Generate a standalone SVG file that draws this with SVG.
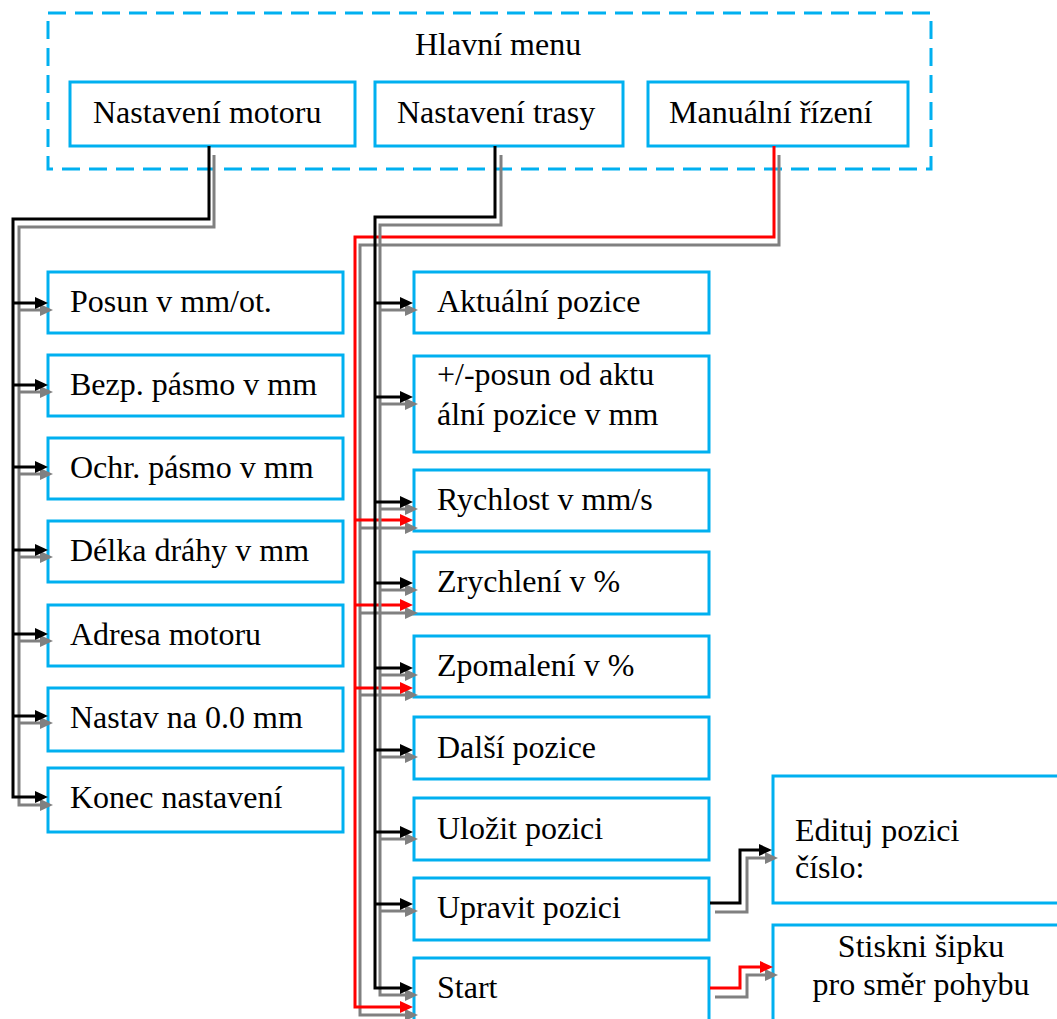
<svg xmlns="http://www.w3.org/2000/svg" width="1057" height="1019" viewBox="0 0 1057 1019">
<defs>
<style>
.box{fill:#fff;stroke:#00B0F0;stroke-width:3}
.frame{fill:none;stroke:#00B0F0;stroke-width:3;stroke-dasharray:18 9}
text{font-family:"Liberation Serif","Times New Roman",serif;font-size:32px;fill:#000}
.k{fill:none;stroke:#000;stroke-width:3}
.g{fill:none;stroke:#808080;stroke-width:3}
.r{fill:none;stroke:#FF0000;stroke-width:3}
.k.a{marker-end:url(#ak)}
.g.a{marker-end:url(#ag)}
.r.a{marker-end:url(#ar)}
</style>
<marker id="ak" viewBox="0 0 13 12" refX="3" refY="6" markerWidth="13" markerHeight="12" markerUnits="userSpaceOnUse" orient="auto"><path d="M0,0 L13,6 L0,12 z" fill="#000"/></marker>
<marker id="ag" viewBox="0 0 13 12" refX="3" refY="6" markerWidth="13" markerHeight="12" markerUnits="userSpaceOnUse" orient="auto"><path d="M0,0 L13,6 L0,12 z" fill="#808080"/></marker>
<marker id="ar" viewBox="0 0 13 12" refX="3" refY="6" markerWidth="13" markerHeight="12" markerUnits="userSpaceOnUse" orient="auto"><path d="M0,0 L13,6 L0,12 z" fill="#FF0000"/></marker>
</defs>
<rect width="1057" height="1019" fill="#fff"/>
<g id="hlavni-menu">
<rect class="frame" x="48" y="13" width="883" height="156"/>
<text x="415" y="55">Hlavní menu</text>
</g>
<g id="nastaveni-motoru"><rect class="box" x="70" y="82" width="285" height="64"/><text x="93" y="123">Nastavení motoru</text></g>
<g id="nastaveni-trasy"><rect class="box" x="375" y="82" width="248" height="64"/><text x="397" y="123">Nastavení trasy</text></g>
<g id="manualni-rizeni"><rect class="box" x="648" y="82" width="260" height="64"/><text x="669" y="123">Manuální řízení</text></g>

<g id="posun"><rect class="box" x="48" y="272" width="295" height="61"/><text x="70" y="312">Posun v mm/ot.</text></g>
<g id="bezp"><rect class="box" x="48" y="355" width="295" height="61"/><text x="70" y="395">Bezp. pásmo v mm</text></g>
<g id="ochr"><rect class="box" x="48" y="438" width="295" height="61"/><text x="70" y="478">Ochr. pásmo v mm</text></g>
<g id="delka"><rect class="box" x="48" y="521" width="295" height="61"/><text x="70" y="561">Délka dráhy v mm</text></g>
<g id="adresa"><rect class="box" x="48" y="605" width="295" height="61"/><text x="70" y="645">Adresa motoru</text></g>
<g id="nastav"><rect class="box" x="48" y="688" width="295" height="63"/><text x="70" y="728">Nastav na 0.0 mm</text></g>
<g id="konec"><rect class="box" x="48" y="768" width="295" height="64"/><text x="70" y="808">Konec nastavení</text></g>

<g id="aktualni"><rect class="box" x="414" y="272" width="295" height="61"/><text x="437" y="312">Aktuální pozice</text></g>
<g id="posun-od"><rect class="box" x="414" y="356" width="295" height="96"/><text x="437" y="385">+/-posun od aktu</text><text x="437" y="425">ální pozice v mm</text></g>
<g id="rychlost"><rect class="box" x="414" y="470" width="295" height="61"/><text x="437" y="510">Rychlost v mm/s</text></g>
<g id="zrychleni"><rect class="box" x="414" y="552" width="295" height="62"/><text x="437" y="592">Zrychlení v %</text></g>
<g id="zpomaleni"><rect class="box" x="414" y="636" width="295" height="61"/><text x="437" y="676">Zpomalení v %</text></g>
<g id="dalsi"><rect class="box" x="414" y="717" width="295" height="62"/><text x="437" y="758">Další pozice</text></g>
<g id="ulozit"><rect class="box" x="414" y="798" width="295" height="62"/><text x="437" y="839">Uložit pozici</text></g>
<g id="upravit"><rect class="box" x="414" y="878" width="295" height="62"/><text x="437" y="918">Upravit pozici</text></g>
<g id="start"><rect class="box" x="414" y="958" width="295" height="80"/><text x="437" y="998">Start</text></g>

<g id="edituj"><rect class="box" x="773" y="776" width="300" height="127"/><text x="795" y="841">Edituj pozici</text><text x="795" y="878">číslo:</text></g>
<g id="stiskni"><rect class="box" x="773" y="925" width="300" height="120"/><text x="921" y="957" text-anchor="middle">Stiskni šipku</text><text x="921" y="995" text-anchor="middle">pro směr pohybu</text></g>

<g id="connectors">
<!-- manual control (red) -->
<path class="g a" d="M779,155 V245 H360 V1015 H408"/>
<path class="g a" d="M360,528 H408"/>
<path class="g a" d="M360,613 H408"/>
<path class="g a" d="M360,695 H408"/>
<path class="r a" d="M774,146 V237 H355 V1007 H403"/>
<path class="r a" d="M355,520 H403"/>
<path class="r a" d="M355,605 H403"/>
<path class="r a" d="M355,688 H403"/>
<!-- motor settings -->
<path class="g a" d="M214,155 V227 H19 V805 H43"/>
<path class="g a" d="M19,310 H43"/>
<path class="g a" d="M19,392 H43"/>
<path class="g a" d="M19,474 H43"/>
<path class="g a" d="M19,557 H43"/>
<path class="g a" d="M19,641 H43"/>
<path class="g a" d="M19,723 H43"/>
<path class="k a" d="M209,146 V219 H13 V797 H38"/>
<path class="k a" d="M13,303 H38"/>
<path class="k a" d="M13,385 H38"/>
<path class="k a" d="M13,467 H38"/>
<path class="k a" d="M13,550 H38"/>
<path class="k a" d="M13,634 H38"/>
<path class="k a" d="M13,716 H38"/>
<!-- route settings -->
<path class="g a" d="M501,155 V225 H380 V995 H408"/>
<path class="g a" d="M380,310 H408"/>
<path class="g a" d="M380,404 H408"/>
<path class="g a" d="M380,509 H408"/>
<path class="g a" d="M380,590 H408"/>
<path class="g a" d="M380,675 H408"/>
<path class="g a" d="M380,757 H408"/>
<path class="g a" d="M380,839 H408"/>
<path class="g a" d="M380,911 H408"/>
<path class="k a" d="M495,146 V217 H375 V988 H403"/>
<path class="k a" d="M375,303 H403"/>
<path class="k a" d="M375,397 H403"/>
<path class="k a" d="M375,502 H403"/>
<path class="k a" d="M375,583 H403"/>
<path class="k a" d="M375,668 H403"/>
<path class="k a" d="M375,750 H403"/>
<path class="k a" d="M375,832 H403"/>
<path class="k a" d="M375,904 H403"/>
<!-- right side -->
<path class="g a" d="M715,912 H747 V858 H768"/>
<path class="k a" d="M710,903 H740 V850 H762"/>
<path class="g a" d="M715,997 H747 V975 H768"/>
<path class="r a" d="M710,988 H740 V967 H763"/>
</g>
</svg>
